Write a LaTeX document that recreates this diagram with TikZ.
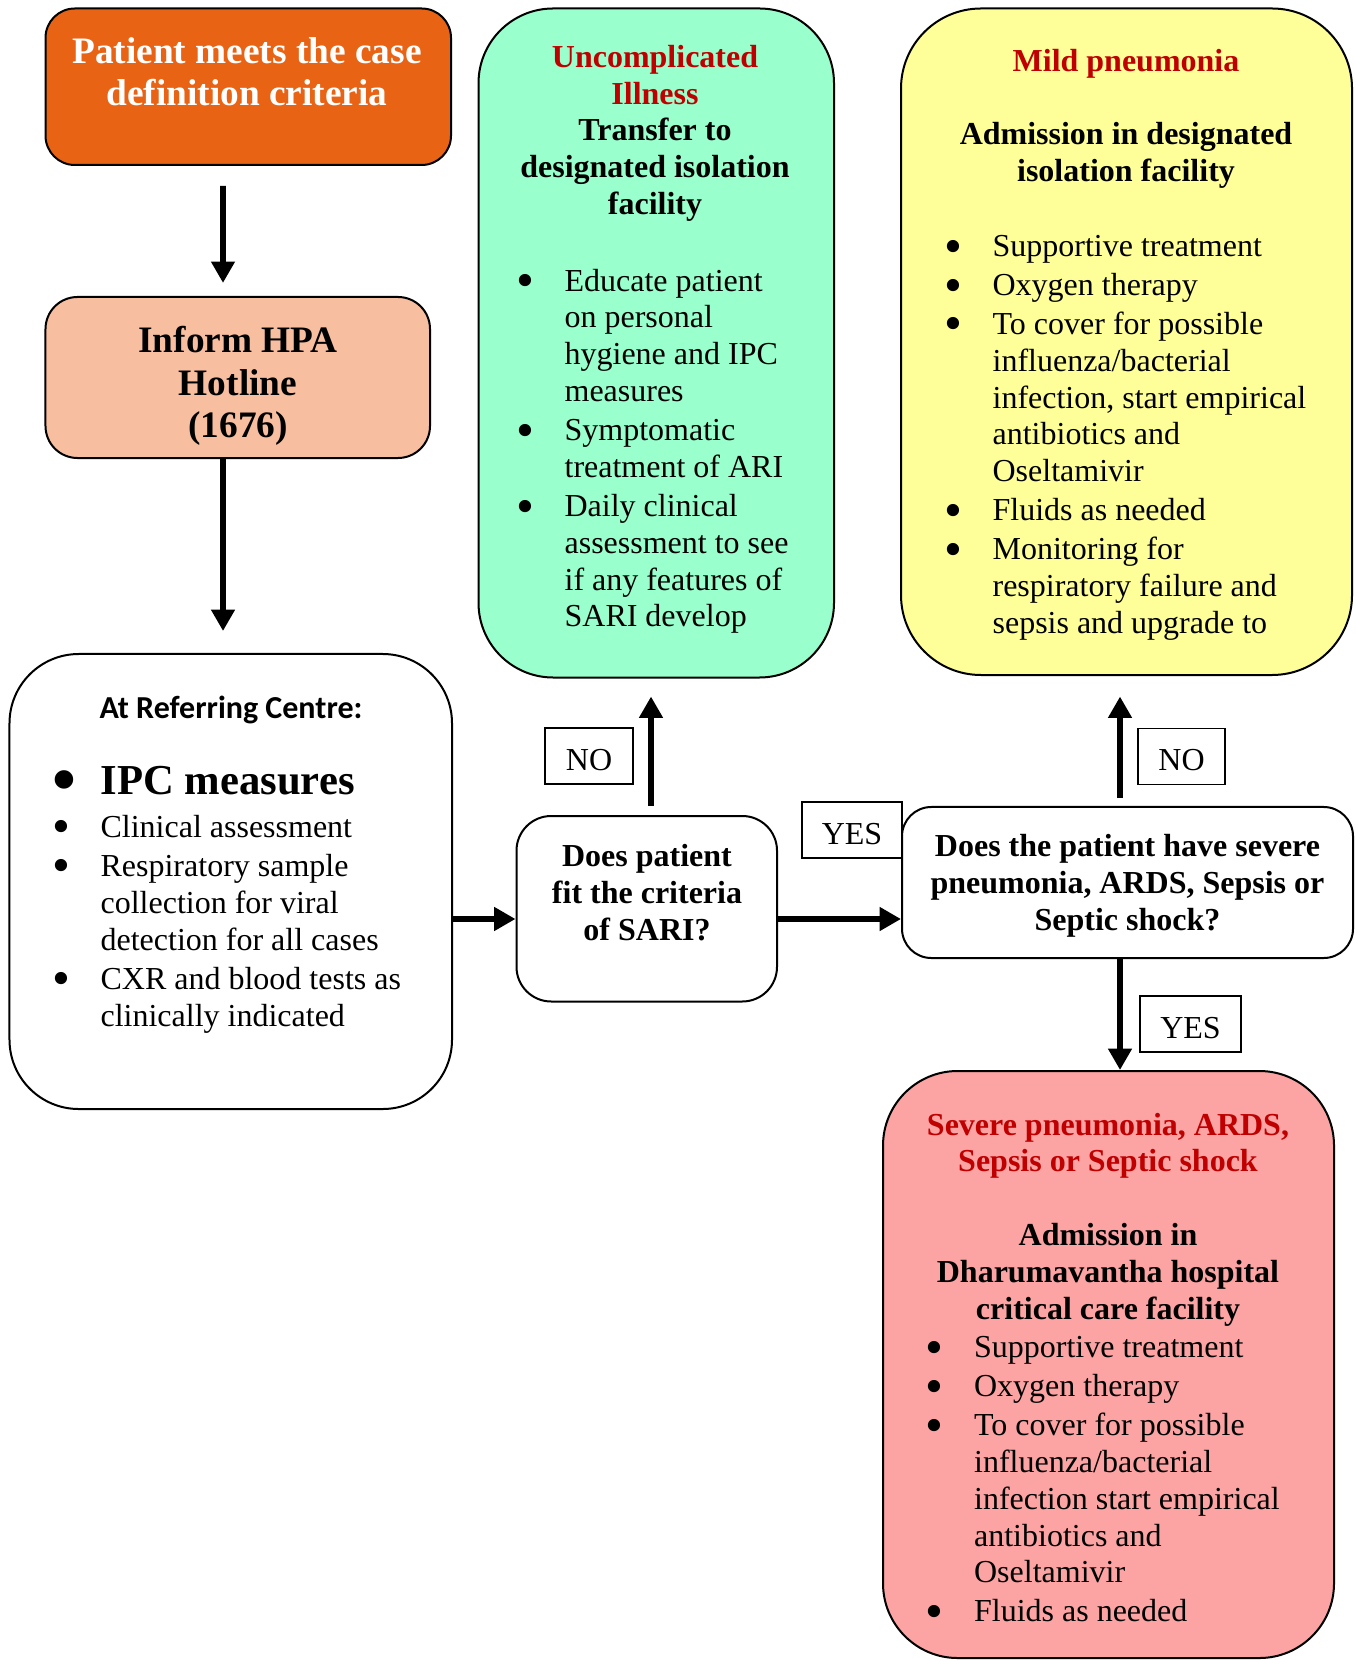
\documentclass[tikz,border=0pt]{standalone}
\usepackage{fontspec}
\usepackage{graphicx}
\setmainfont{Liberation Serif}
\newfontfamily\calibri{Carlito}
\usetikzlibrary{arrows.meta}
\definecolor{caseorange}{RGB}{233,99,21}
\definecolor{hotlinepeach}{RGB}{248,190,160}
\definecolor{mildgreen}{RGB}{153,255,204}
\definecolor{pneuyellow}{RGB}{255,255,153}
\definecolor{severepink}{RGB}{252,163,163}
\definecolor{headred}{RGB}{192,0,0}
\newcommand{\bigdot}{\smash{\raisebox{-0.2em}{\scalebox{1.6}{\textbullet}}}}
\newcommand{\bl}{\makebox[17.5pt][l]{\hspace*{-0.6pt}\bigdot}}
\newcommand{\ind}{\hspace*{17.5pt}}
\begin{document}
\begin{tikzpicture}[
    box/.style={draw, line width=0.75pt, inner sep=0pt},
    txt/.style={inner sep=0pt, anchor=north, align=center, font=\bfseries\fontsize{12}{13.8}\selectfont},
    lst/.style={inner sep=0pt, anchor=north west, align=left, font=\fontsize{12}{13.8}\selectfont},
    lbl/.style={draw, line width=0.5pt, inner sep=0pt, minimum height=21pt, text height=10.5pt, text depth=0pt, font=\fontsize{12}{14}\selectfont},
    arr/.style={line width=2.2pt, -{Triangle[width=8.5pt,length=8pt]}}]
    \def\x{0.375pt}
    \def\y{-0.375pt}
    \useasboundingbox (0*\x, 0*\y) rectangle (1355*\x, 1660*\y);
    % boxes
    \node (A0_0) [box, fill=caseorange, rounded corners=11pt, minimum width=152.06pt, minimum height=58.69pt] at (248.25*\x, 86.75*\y) {};
    \node (A1_0) [box, fill=hotlinepeach, rounded corners=12pt, minimum width=144.19pt, minimum height=60.38pt] at (237.75*\x, 377.5*\y) {};
    \node (A2_0) [box, rounded corners=26pt, minimum width=165.94pt, minimum height=170.63pt] at (230.75*\x, 881.5*\y) {};
    \node (A0_1) [box, fill=mildgreen, rounded corners=28pt, minimum width=133.31pt, minimum height=250.88pt] at (656.25*\x, 343*\y) {};
    \node (A0_2) [box, fill=pneuyellow, rounded corners=30pt, minimum width=169.13pt, minimum height=249.94pt] at (1126.5*\x, 341.75*\y) {};
    \node (A2_1) [box, rounded corners=13pt, minimum width=97.69pt, minimum height=69.56pt] at (646.75*\x, 908.75*\y) {};
    \node (A2_2) [box, rounded corners=11pt, minimum width=169.13pt, minimum height=56.63pt] at (1127.5*\x, 882.5*\y) {};
    \node (A3_2) [box, fill=severepink, rounded corners=28pt, minimum width=169.13pt, minimum height=220.13pt] at (1108.5*\x, 1364.5*\y) {};
    % texts
    \node (T0_0) [txt, text=white, font=\bfseries\fontsize{14}{16.1}\selectfont] at (247*\x, 36.6*\y) {Patient meets the case\\definition criteria};
    \node (T1_0) [txt, font=\bfseries\fontsize{14}{16}\selectfont] at (238*\x, 325.6*\y) {Inform HPA\\Hotline\\(1676)};
    \node (T2_0) [txt, font=\calibri\bfseries\fontsize{12}{14}\selectfont] at (231*\x, 695.5*\y) {At Referring Centre:};
    \node (U2_0) [lst, font=\fontsize{12}{13.9}\selectfont] at (53.4*\x, 765.5*\y) {{\fontsize{16}{13.9}\selectfont\bfseries\makebox[17.5pt][l]{\hspace*{-0.6pt}\bigdot}IPC measures}\\[2.2pt]
      \bl Clinical assessment\\[0.75pt]
      \bl Respiratory sample\\ \ind collection for viral\\ \ind detection for all cases\\[0.75pt]
      \bl CXR and blood tests as\\ \ind clinically indicated};
    \node (T0_1) [txt] at (655*\x, 44.5*\y) {\textcolor{headred}{Uncomplicated}\\\textcolor{headred}{Illness}\\Transfer to\\designated isolation\\facility};
    \node (U0_1) [lst, font=\fontsize{12}{13.76}\selectfont] at (517.4*\x, 268.5*\y) {\bl Educate patient\\ \ind on personal\\ \ind hygiene and IPC\\ \ind measures\\[1pt]
      \bl Symptomatic\\ \ind treatment of ARI\\[1pt]
      \bl Daily clinical\\ \ind assessment to see\\ \ind if any features of\\ \ind SARI develop};
    \node (T0_2) [txt, text=headred] at (1126*\x, 48.5*\y) {Mild pneumonia};
    \node (S0_2) [txt, font=\bfseries\fontsize{12}{13.9}\selectfont] at (1126*\x, 122*\y) {Admission in designated\\isolation facility};
    \node (U0_2) [lst] at (945.4*\x, 235*\y) {\bl Supportive treatment\\[0.8pt]
      \bl Oxygen therapy\\[0.8pt]
      \bl To cover for possible\\ \ind influenza/bacterial\\ \ind infection, start empirical\\ \ind antibiotics and\\ \ind Oseltamivir\\[0.8pt]
      \bl Fluids as needed\\[0.8pt]
      \bl Monitoring for\\ \ind respiratory failure and\\ \ind sepsis and upgrade to};
    \node (T2_1) [txt, font=\bfseries\fontsize{12}{14}\selectfont] at (647*\x, 843.5*\y) {Does patient\\fit the criteria\\of SARI?};
    \node (T2_2) [txt, font=\bfseries\fontsize{12}{13.9}\selectfont] at (1127.5*\x, 833.5*\y) {Does the patient have severe\\pneumonia, ARDS, Sepsis or\\Septic shock?};
    \node (T3_2) [txt, text=headred, font=\bfseries\fontsize{12}{13.5}\selectfont] at (1108*\x, 1112.5*\y) {Severe pneumonia, ARDS,\\Sepsis or Septic shock};
    \node (S3_2) [txt, font=\bfseries\fontsize{12}{13.9}\selectfont] at (1108*\x, 1222.5*\y) {Admission in\\Dharumavantha hospital\\critical care facility};
    \node (U3_2) [lst] at (926.9*\x, 1336*\y) {\bl Supportive treatment\\[0.8pt]
      \bl Oxygen therapy\\[0.8pt]
      \bl To cover for possible\\ \ind influenza/bacterial\\ \ind infection start empirical\\ \ind antibiotics and\\ \ind Oseltamivir\\[0.8pt]
      \bl Fluids as needed};
    % yes / no
    \node (N2_1) [lbl, minimum width=33pt] at (589*\x, 756*\y) {NO};
    \node (N2_2) [lbl, minimum width=37.5pt] at (852*\x, 830*\y) {YES};
    \node (M2_2) [lbl, minimum width=32.6pt] at (1181.5*\x, 756.5*\y) {NO};
    \node (N3_2) [lbl, minimum width=37.9pt] at (1190.5*\x, 1024*\y) {YES};
    % arrows
    \path ([xshift=-9.47pt]A0_0.south) edge [arr, shorten <=7.5pt, shorten >=4.9pt] ([xshift=-5.53pt]A1_0.north);
    \path ([xshift=-5.53pt]A1_0.south) edge [arr, shorten >=8.25pt] ([xshift=-2.9pt]A2_0.north);
    \path ([yshift=-14.06pt]A2_0.east) edge [arr] ([yshift=-3.84pt]A2_1.west);
    \path ([yshift=-3.84pt]A2_1.east) edge [arr] ([yshift=-13.69pt]A2_2.west);
    \path ([xshift=1.59pt]A2_1.north) edge [arr, shorten <=3.4pt, shorten >=6.75pt] ([xshift=-1.97pt]A0_1.south);
    \path ([xshift=-2.81pt]A2_2.north) edge [arr, shorten <=3pt, shorten >=7.7pt] ([xshift=-2.44pt]A0_2.south);
    \path ([xshift=-2.81pt]A2_2.south) edge [arr] ([xshift=4.31pt]A3_2.north);
\end{tikzpicture}
\end{document}
